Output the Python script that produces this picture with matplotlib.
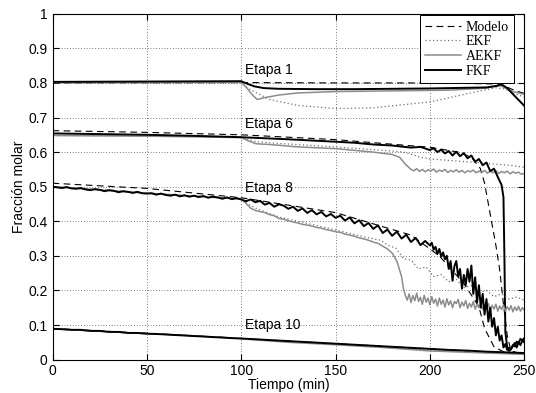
import matplotlib
matplotlib.use("Agg")
import matplotlib.pyplot as plt
import numpy as np

# ---- Etapa 1 ----
t1_mod = [0, 100, 150, 200, 236, 240, 245, 250]
y1_mod = [0.800, 0.801, 0.800, 0.800, 0.797, 0.790, 0.778, 0.770]
t1_ekf = [0, 100, 105, 115, 130, 150, 170, 200, 225, 235, 240, 245, 250]
y1_ekf = [0.800, 0.800, 0.780, 0.752, 0.735, 0.726, 0.728, 0.745, 0.775, 0.786, 0.782, 0.768, 0.760]
t1_aekf = [0, 100, 103, 106, 108.5, 112, 120, 130, 150, 180, 210, 230, 237, 240, 244, 250]
y1_aekf = [0.801, 0.802, 0.785, 0.765, 0.752, 0.757, 0.765, 0.771, 0.775, 0.777, 0.779, 0.785, 0.793, 0.785, 0.775, 0.767]
t1_fkf = [0, 50, 100, 103, 107, 112, 120, 140, 160, 200, 230, 236, 238, 241, 245, 250]
y1_fkf = [0.803, 0.804, 0.805, 0.798, 0.790, 0.785, 0.783, 0.782, 0.782, 0.784, 0.787, 0.792, 0.796, 0.785, 0.762, 0.734]

# ---- Etapa 6 ----
t6_mod = [0, 50, 100, 150, 200, 215, 222, 226.7, 229, 231, 233, 235, 237, 239, 241, 243, 250]
y6_mod = [0.662, 0.657, 0.650, 0.636, 0.614, 0.600, 0.585, 0.553, 0.510, 0.450, 0.390, 0.330, 0.260, 0.160, 0.070, 0.025, 0.015]
t6_ekf = [0, 100, 104, 108, 120, 150, 180, 186, 190, 195, 200, 205, 210, 217, 225, 235, 242, 250]
y6_ekf = [0.648, 0.645, 0.636, 0.630, 0.625, 0.615, 0.603, 0.600, 0.594, 0.585, 0.580, 0.578, 0.576, 0.573, 0.570, 0.565, 0.562, 0.556]
t6_aekf = [0, 50, 100, 104, 108, 115, 130, 150, 170, 180, 184, 187, 190,
           191.5, 193, 194.5, 196, 197.5, 199, 200.5, 202, 203.5, 205, 206.5, 208, 209.5, 211,
           212.5, 214, 215.5, 217, 218.5, 220, 221.5, 223, 224.5, 226, 227.5, 229, 230.5, 232,
           233.5, 235, 236.5, 238, 239.5, 241, 242.5, 244, 245.5, 247, 248.5, 250]
y6_aekf = [0.648, 0.646, 0.642, 0.632, 0.624, 0.622, 0.615, 0.610, 0.600, 0.593, 0.585, 0.565, 0.550,
           0.546, 0.552, 0.544, 0.550, 0.543, 0.549, 0.545, 0.551, 0.542, 0.548, 0.544, 0.550, 0.541, 0.547,
           0.543, 0.549, 0.542, 0.547, 0.540, 0.546, 0.543, 0.548, 0.540, 0.545, 0.541, 0.547, 0.539, 0.545,
           0.540, 0.546, 0.538, 0.544, 0.540, 0.545, 0.537, 0.543, 0.539, 0.542, 0.536, 0.538]
t6_fkf = [0, 25, 50, 75, 100, 125, 150, 160, 170, 180, 190, 195, 200, 202, 204, 206, 208, 210, 212,
          214, 216, 218, 220, 222, 224, 226, 228, 230, 232, 234, 236, 238, 239, 239.5, 240, 241,
          242, 243, 244, 245, 246, 247, 248, 249, 250]
y6_fkf = [0.654, 0.652, 0.650, 0.647, 0.643, 0.637, 0.630, 0.627, 0.622, 0.619, 0.613, 0.615, 0.606,
          0.611, 0.600, 0.607, 0.596, 0.603, 0.590, 0.601, 0.588, 0.597, 0.582, 0.590, 0.572, 0.580,
          0.562, 0.570, 0.545, 0.552, 0.528, 0.505, 0.470, 0.300, 0.080, 0.035, 0.025, 0.030, 0.042,
          0.038, 0.052, 0.048, 0.060, 0.055, 0.062]

# ---- Etapa 8 ----
t8_mod = [0, 50, 100, 150, 190, 205, 218, 226, 229, 234, 240, 250]
y8_mod = [0.510, 0.495, 0.468, 0.425, 0.360, 0.300, 0.220, 0.153, 0.090, 0.037, 0.020, 0.015]
t8_ekf = [0, 50, 100, 103, 108, 120, 135, 150, 165, 174, 178, 182, 186, 190, 194, 198, 202, 206,
          210, 214, 218, 222, 226, 230, 234, 238, 242, 246, 250]
y8_ekf = [0.500, 0.482, 0.465, 0.452, 0.437, 0.412, 0.394, 0.375, 0.355, 0.345, 0.330, 0.322, 0.292,
          0.288, 0.262, 0.268, 0.240, 0.246, 0.225, 0.232, 0.208, 0.214, 0.193, 0.200, 0.182, 0.190,
          0.175, 0.181, 0.172]
t8_aekf = [0, 50, 100, 102.5, 105, 107.5, 110, 112.5, 115, 117.5, 120, 122.5, 125, 127.5, 130, 132.5,
           135, 137.5, 140, 142.5, 145, 147.5, 150, 152.5, 155, 157.5, 160, 162.5, 165, 167.5, 170,
           172.5, 175, 177.5, 180, 182.5, 185, 186, 187,
           188, 189, 190, 191, 192, 193, 194, 195, 196, 197, 198, 199, 200, 201, 202, 203, 204, 205,
           206, 207, 208, 209, 210, 211, 212, 213, 214, 215, 216, 217, 218, 219, 220, 221, 222, 223,
           224, 225, 226, 227, 228, 229, 230, 231, 232, 233, 234, 235, 236, 237, 238, 239, 240, 241,
           242, 243, 244, 245, 246, 247, 248, 249, 250]
y8_aekf = [0.500, 0.481, 0.464, 0.452, 0.438, 0.431, 0.428, 0.425, 0.419, 0.416, 0.408, 0.406, 0.401,
           0.398, 0.395, 0.391, 0.389, 0.386, 0.382, 0.380, 0.376, 0.373, 0.370, 0.368, 0.363, 0.360,
           0.357, 0.352, 0.349, 0.345, 0.340, 0.336, 0.328, 0.320, 0.308, 0.285, 0.240, 0.205, 0.185,
           0.172, 0.190, 0.165, 0.185, 0.170, 0.192, 0.168, 0.180, 0.160, 0.186, 0.166, 0.178, 0.158,
           0.182, 0.163, 0.175, 0.155, 0.178, 0.160, 0.172, 0.152, 0.176, 0.158, 0.170, 0.150, 0.168,
           0.162, 0.174, 0.150, 0.166, 0.155, 0.171, 0.148, 0.163, 0.152, 0.168, 0.146, 0.160, 0.150,
           0.164, 0.145, 0.158, 0.148, 0.162, 0.142, 0.157, 0.146, 0.160, 0.140, 0.155, 0.145, 0.158,
           0.140, 0.153, 0.143, 0.156, 0.138, 0.152, 0.142, 0.154, 0.140, 0.150, 0.143]
t8_fkf = [0, 2.5, 5, 7.5, 10, 12.5, 15, 17.5, 20, 22.5, 25, 27.5, 30, 32.5, 35, 37.5, 40, 42.5, 45,
          47.5, 50, 52.5, 55, 57.5, 60, 62.5, 65, 67.5, 70, 72.5, 75, 77.5, 80, 82.5, 85, 87.5, 90,
          92.5, 95, 97.5, 100, 102.5, 105, 107.5, 110, 112.5, 115, 117.5, 120, 122.5, 125, 127.5,
          130, 132.5, 135, 137.5, 140, 142.5, 145, 147.5, 150, 152.5, 155, 157.5, 160, 162.5, 165,
          167.5, 170, 172.5, 175, 177.5, 180, 182.5, 185, 187.5, 190, 192.5, 195, 197.5,
          200, 201, 202, 203, 204, 205, 206, 207, 208, 209, 210, 211, 212, 213, 214, 215, 216, 217,
          218, 219, 220, 221, 222, 223, 224, 225, 226, 227, 228, 229, 230, 231, 232, 233, 234, 235,
          236, 237, 238, 239, 240, 241, 242, 243, 244, 245, 246, 247, 248, 249, 250]
y8_fkf = [0.500, 0.498, 0.496, 0.499, 0.495, 0.494, 0.496, 0.492, 0.490, 0.493, 0.491, 0.487, 0.490,
          0.488, 0.484, 0.487, 0.485, 0.482, 0.485, 0.481, 0.480,
          0.481, 0.477, 0.480, 0.476, 0.474, 0.477, 0.472, 0.475, 0.471, 0.474, 0.470, 0.473, 0.468,
          0.471, 0.469, 0.465, 0.469, 0.464, 0.467, 0.463,
          0.458, 0.463, 0.455, 0.459, 0.448, 0.453, 0.442, 0.449, 0.445, 0.436, 0.442, 0.430, 0.437,
          0.424, 0.432, 0.420, 0.427, 0.414, 0.421, 0.410,
          0.416, 0.402, 0.411, 0.394, 0.403, 0.386, 0.395, 0.378, 0.388, 0.366, 0.376, 0.358, 0.370,
          0.350, 0.361, 0.340, 0.352, 0.331, 0.343,
          0.330, 0.338, 0.318, 0.326, 0.305, 0.320, 0.298, 0.310, 0.290, 0.300, 0.262, 0.285, 0.228,
          0.270, 0.285, 0.240, 0.262, 0.205, 0.245, 0.215, 0.262, 0.225, 0.272, 0.190, 0.238, 0.165,
          0.215, 0.150, 0.190, 0.130, 0.175, 0.110, 0.150, 0.095, 0.120, 0.070, 0.095, 0.055, 0.070,
          0.035, 0.045, 0.028, 0.035, 0.030, 0.040, 0.048, 0.035, 0.050, 0.042, 0.055, 0.050]

# ---- Etapa 10 ----
t10_mod = [0, 50, 100, 150, 200, 230, 250]
y10_mod = [0.090, 0.076, 0.061, 0.046, 0.031, 0.022, 0.018]
t10_ekf = [0, 100, 105, 125, 150, 175, 200, 225, 250]
y10_ekf = [0.089, 0.061, 0.059, 0.051, 0.044, 0.036, 0.027, 0.021, 0.016]
t10_aekf = [0, 100, 105, 125, 150, 175, 200, 225, 250]
y10_aekf = [0.089, 0.061, 0.058, 0.050, 0.043, 0.035, 0.025, 0.020, 0.015]
t10_fkf = [0, 5, 10, 15, 20, 25, 30, 35, 40, 45, 50, 55, 60, 65, 70, 75, 80, 85, 90, 95, 100,
           110, 120, 130, 140, 150, 160, 170, 180, 190, 200, 210, 220, 230, 240, 250]
y10_fkf = [0.089, 0.088, 0.086, 0.086, 0.083, 0.083, 0.080, 0.080, 0.077, 0.077, 0.075, 0.074, 0.073,
           0.071, 0.070, 0.068, 0.067, 0.065, 0.064, 0.062, 0.061, 0.058, 0.055, 0.052, 0.049, 0.046,
           0.043, 0.040, 0.037, 0.034, 0.031, 0.028, 0.026, 0.023, 0.021, 0.019]

stages = [
    ("Etapa 1", (t1_mod, y1_mod), (t1_ekf, y1_ekf), (t1_aekf, y1_aekf), (t1_fkf, y1_fkf)),
    ("Etapa 6", (t6_mod, y6_mod), (t6_ekf, y6_ekf), (t6_aekf, y6_aekf), (t6_fkf, y6_fkf)),
    ("Etapa 8", (t8_mod, y8_mod), (t8_ekf, y8_ekf), (t8_aekf, y8_aekf), (t8_fkf, y8_fkf)),
    ("Etapa 10", (t10_mod, y10_mod), (t10_ekf, y10_ekf), (t10_aekf, y10_aekf), (t10_fkf, y10_fkf)),
]
label_pos = [(102, 0.838), (102, 0.680), (102, 0.496), (102, 0.101)]

plt.rcParams["font.family"] = ["Liberation Sans", "DejaVu Sans"]

fig = plt.figure(figsize=(5.36, 3.93), dpi=100)
ax = fig.add_axes([0.098, 0.085, 0.880, 0.880])

styles = {
    "Modelo": dict(color="black", lw=0.8, ls=(0, (6, 4))),
    "EKF": dict(color="#707070", lw=0.9, ls=(0, (1, 2))),
    "AEKF": dict(color="#8c8c8c", lw=1.1, ls="-"),
    "FKF": dict(color="black", lw=1.4, ls="-"),
}
names = ["Modelo", "EKF", "AEKF", "FKF"]

for i, (name, *series) in enumerate(stages):
    for key, (t, y) in zip(names, series):
        ax.plot(t, y, label=key if i == 0 else None, **styles[key])
    ax.text(label_pos[i][0], label_pos[i][1], name, fontsize=10, va="center", ha="left")

ax.set_xlim(0, 250)
ax.set_ylim(0, 1)
ax.set_xticks(np.arange(0, 251, 50))
ax.set_yticks(np.arange(0, 1.01, 0.1))
ax.set_yticklabels(["0", "0.1", "0.2", "0.3", "0.4", "0.5", "0.6", "0.7", "0.8", "0.9", "1"])
ax.grid(True, color="black", ls=(0, (1, 3)), lw=0.5)
ax.tick_params(direction="in", length=4, labelsize=10, top=True, right=True)
for sp in ax.spines.values():
    sp.set_linewidth(0.8)

ax.set_xlabel("Tiempo (min)", fontsize=10, labelpad=0)
ax.set_ylabel("Fracción molar", fontsize=10, labelpad=2)

leg = ax.legend(loc="upper right", bbox_to_anchor=(0.979, 0.996), borderaxespad=0,
                prop={"family": "Liberation Serif", "size": 10},
                fancybox=False, framealpha=1, edgecolor="black",
                handlelength=2.6, labelspacing=0.12, borderpad=0.4, handletextpad=0.3)
leg.get_frame().set_linewidth(0.7)

fig.savefig("out.png", dpi=100)
